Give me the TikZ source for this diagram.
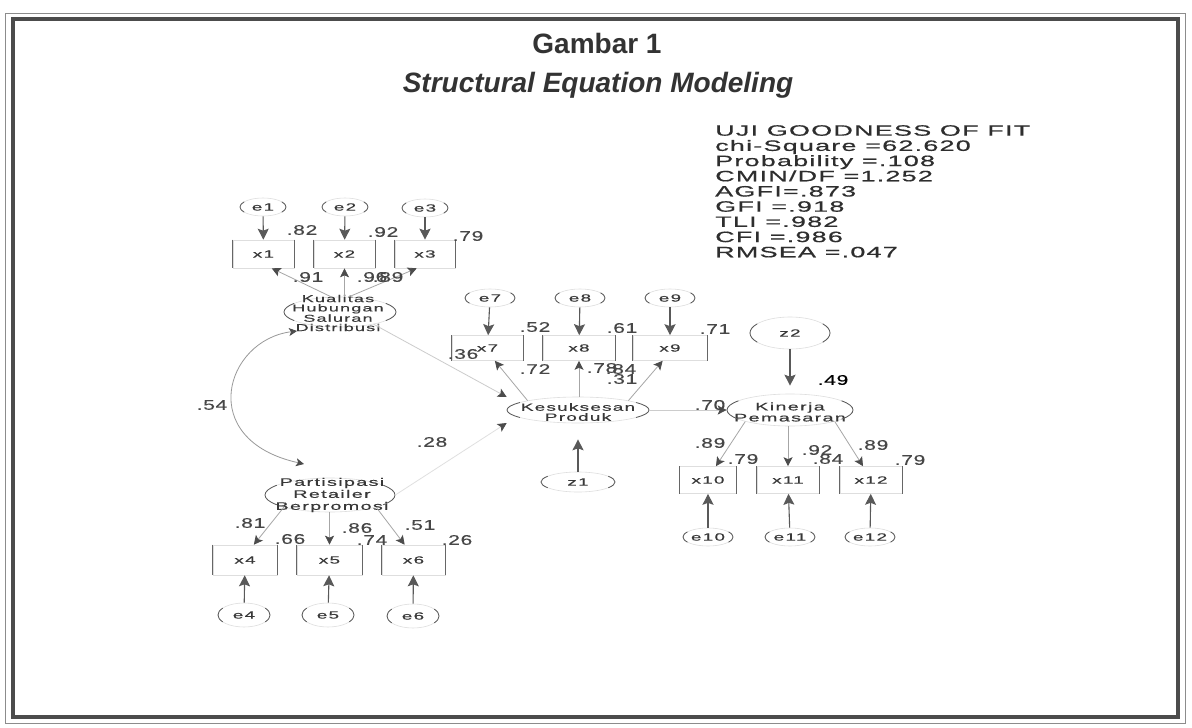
\documentclass[tikz,border=0pt]{standalone}
\usepackage{fontspec}
\setmainfont{Liberation Sans}
\newfontfamily\gofont[FakeStretch=1.8,LetterSpace=8,FakeBold=0.6]{Liberation Sans}
\newfontfamily\lblfont[FakeStretch=1.5,LetterSpace=5,FakeBold=0.4]{Liberation Sans}
\newfontfamily\smlfont[FakeStretch=1.8,LetterSpace=12,FakeBold=0.4]{Liberation Sans}
\usetikzlibrary{shapes.geometric,arrows.meta,calc}
\newcommand\ellarcs[3]{%
 \draw[paren] ([shift={(145:#2pt and #3pt)}]#1.center) arc[start angle=145,end angle=215,x radius=#2pt,y radius=#3pt];
 \draw[paren] ([shift={(-35:#2pt and #3pt)}]#1.center) arc[start angle=-35,end angle=35,x radius=#2pt,y radius=#3pt];}
\begin{document}
\begin{tikzpicture}[x=1pt,y=-1pt,
  lat/.style={ellipse, draw=black!13, line width=0.6pt, inner sep=0pt, font=\smlfont\fontsize{10.5}{11}\selectfont, text=black!78},
  mv/.style={rectangle, draw=black!13, line width=0.6pt, inner sep=0pt, font=\smlfont\fontsize{10.5}{11}\selectfont, text=black!78},
  txt/.style={align=center, inner sep=0pt, text=black!78},
  num/.style={font=\lblfont\fontsize{14}{14}\selectfont, text=black!72, inner sep=0pt},
  ea/.style={draw=black!65, line width=1.1pt, -{Stealth[length=11pt,width=11pt,inset=2pt]}},
  la/.style={draw=black!35, line width=0.8pt, -{Stealth[length=9pt,width=9pt,inset=2pt,color=black!70]}},
  sa/.style={draw=black!20, line width=0.8pt, -{Stealth[length=9pt,width=9pt,inset=2pt,color=black!70]}},
  cov/.style={draw=black!40, line width=0.8pt, {Stealth[length=8pt,width=8pt,inset=2pt,color=black!70]}-{Stealth[length=8pt,width=8pt,inset=2pt,color=black!70]}},
  paren/.style={draw=black!65, line width=0.8pt},
  vline/.style={draw=black!60, line width=0.9pt},
]
\useasboundingbox (0,0) rectangle (1192,728);
\fill[white] (0,0) rectangle (1192,728);
% frame
\draw[black!45, line width=0.8pt] (5,13) rectangle (1185,723);
\draw[black!70, line width=4pt] (13,19) rectangle (1178,717);

% titles
\node[font=\bfseries\fontsize{28}{30}\selectfont, text=black!80] (g1) at (597,43) {Gambar 1};
\node[font=\bfseries\itshape\fontsize{28}{30}\selectfont, text=black!80] (g2) at (598,85) {Structural Equation Modeling};

% goodness of fit
\node[anchor=north west, align=left, inner sep=0pt, font=\gofont\fontsize{15}{15.2}\selectfont, text=black!82] (gof) at (715,125)
 {UJI GOODNESS OF FIT\\chi-Square =62.620\\Probability =.108\\CMIN/DF =1.252\\AGFI=.873\\GFI =.918\\TLI =.982\\CFI =.986\\RMSEA =.047};

% error ellipses
\node[lat, minimum width=46pt, minimum height=18pt] (e1) at (263,207) {e1};
\node[lat, minimum width=46pt, minimum height=18pt] (e2) at (345,207) {e2};
\node[lat, minimum width=46pt, minimum height=18pt] (e3) at (425,208) {e3};
\node[lat, minimum width=50pt, minimum height=18pt] (e7) at (490,298) {e7};
\node[lat, minimum width=50pt, minimum height=18pt] (e8) at (580,298) {e8};
\node[lat, minimum width=50pt, minimum height=18pt] (e9) at (670,298) {e9};
\node[lat, minimum width=52pt, minimum height=24pt] (e4) at (244,615) {e4};
\node[lat, minimum width=52pt, minimum height=24pt] (e5) at (328,615) {e5};
\node[lat, minimum width=52pt, minimum height=24pt] (e6) at (413,616) {e6};
\node[lat, minimum width=50pt, minimum height=18pt] (e10) at (708,537) {e10};
\node[lat, minimum width=50pt, minimum height=18pt] (e11) at (790,537) {e11};
\node[lat, minimum width=50pt, minimum height=18pt] (e12) at (870,537) {e12};
\node[lat, minimum width=74pt, minimum height=20pt] (z1) at (578,482) {z1};
\node[lat, minimum width=80pt, minimum height=32pt] (z2) at (790,333) {z2};

% latent ellipses
\node[lat, minimum width=112pt, minimum height=30pt] (KHSD) at (340,312) {};
\node[txt, font=\smlfont\fontsize{10}{9.3}\selectfont] (KHSDt) at (338,313) {Kualitas\\Hubungan\\Saluran\\Distribusi};
\node[lat, minimum width=142pt, minimum height=26pt] (KP) at (578,410) {};
\node[txt, font=\smlfont\fontsize{10.5}{10}\selectfont] (KPt) at (578,412) {Kesuksesan\\Produk};
\node[lat, minimum width=126pt, minimum height=32pt] (KinP) at (790,410) {};
\node[txt, font=\smlfont\fontsize{11}{11}\selectfont] (KinPt) at (790,412) {Kinerja\\Pemasaran};
\node[lat, minimum width=130pt, minimum height=34pt] (PRB) at (330,495) {};
\node[txt, font=\smlfont\fontsize{11}{12}\selectfont] (PRBt) at (332,495) {Partisipasi\\Retailer\\Berpromosi};

% parentheses-like arcs
\ellarcs{e1}{23}{9}\ellarcs{e2}{23}{9}\ellarcs{e3}{23}{9}
\ellarcs{e7}{25}{9}\ellarcs{e8}{25}{9}\ellarcs{e9}{25}{9}
\ellarcs{e4}{26}{12}\ellarcs{e5}{26}{12}\ellarcs{e6}{26}{12}
\ellarcs{e10}{25}{9}\ellarcs{e11}{25}{9}\ellarcs{e12}{25}{9}
\ellarcs{z1}{37}{10}\ellarcs{z2}{40}{16}
\ellarcs{KHSD}{56}{15}\ellarcs{KP}{71}{13}\ellarcs{KinP}{63}{16}\ellarcs{PRB}{65}{17}

% indicator boxes
\node[mv, minimum width=61pt, minimum height=28pt] (x1) at (263.5,254) {x1};
\node[mv, minimum width=61pt, minimum height=28pt] (x2) at (344.5,254) {x2};
\node[mv, minimum width=60pt, minimum height=28pt] (x3) at (425,254) {x3};
\node[mv, minimum width=71pt, minimum height=25pt] (x7) at (487.5,348) {x7};
\node[mv, minimum width=72pt, minimum height=25pt] (x8) at (579,348) {x8};
\node[mv, minimum width=74pt, minimum height=25pt] (x9) at (670,348) {x9};
\node[mv, minimum width=57pt, minimum height=27pt] (x10) at (708,480) {x10};
\node[mv, minimum width=62pt, minimum height=27pt] (x11) at (788,480) {x11};
\node[mv, minimum width=62pt, minimum height=27pt] (x12) at (871,480) {x12};
\node[mv, minimum width=64pt, minimum height=30pt] (x4) at (245,560) {x4};
\node[mv, minimum width=65pt, minimum height=30pt] (x5) at (329.5,560) {x5};
\node[mv, minimum width=63pt, minimum height=30pt] (x6) at (413.5,560) {x6};
\foreach \n in {x1,x2,x3,x4,x5,x6,x7,x8,x9,x10,x11,x12}
 {\draw[vline] (\n.north west) -- (\n.south west) (\n.north east) -- (\n.south east);}

% error arrows
\foreach \a/\b in {e1/x1,e2/x2,e3/x3,e7/x7,e8/x8,e9/x9,e4/x4,e5/x5,e6/x6,e10/x10,e11/x11,e12/x12}
 {\draw[ea] (\a) -- (\b);}
\draw[ea, shorten >=16pt] (z1) -- (KP);
\draw[ea, shorten >=8pt] (z2) -- (KinP);

% loadings
\draw[la] (KHSD.120) -- (x1.-60);
\draw[la] (KHSD.north -| x2.south) -- (x2.south);
\draw[la] (KHSD.60) -- (x3.-120);
\draw[la] (KP.north west) -- (x7.-60);
\draw[la] (KP.north -| x8.south) -- (x8.south);
\draw[la] (KP.north east) -- (x9.-120);
\draw[la] (KinP.south west) -- (x10.60);
\draw[la] (KinP.south -| x11.north) -- (x11.north);
\draw[la] (KinP.south east) -- (x12.120);
\draw[la] (PRB.south west) -- (x4.60);
\draw[la] (PRB.south -| x5.north) -- (x5.north);
\draw[la] (PRB.south east) -- (x6.120);

% structural paths
\draw[sa] (KHSD.-20) -- ([yshift=13pt]KP.west);
\draw[sa, draw=black!12] (PRB.east) -- ([yshift=-13pt]KP.west);
\draw[sa] (KP.east) -- (KinP.west);
\coordinate (cA) at (297,331);
\coordinate (cB) at (304,464);
\draw[cov] (cA) .. controls (225,340) and (195,440) .. (cB);

% numbers
\node[num] (n1) at (302,230) {.82};
\node[num] (n2) at (383,232) {.92};
\node[num] (n3) at (468,236) {.79};
\node[num] (n4) at (308,277) {.91};
\node[num] (n5) at (372,277) {.96};
\node[num] (n6) at (388,277) {.89};
\node[num] (n7) at (212,405) {.54};
\node[num] (n8) at (432,442) {.28};
\node[num] (n9) at (463,354) {.36};
\node[num] (n10) at (535,327) {.52};
\node[num] (n11) at (622,328) {.61};
\node[num] (n12) at (715,329) {.71};
\node[num] (n13) at (535,369) {.72};
\node[num] (n14) at (602,368) {.78};
\node[num] (n15) at (621,369) {.84};
\node[num] (n16) at (622,379) {.31};
\node[num] (n17) at (710,405) {.70};
\node[num, text=black] (n18) at (833,380) {.49};
\node[num] (n19) at (710,443) {.89};
\node[num] (n20) at (743,459) {.79};
\node[num] (n21) at (817,450) {.92};
\node[num] (n22) at (828,459) {.84};
\node[num] (n23) at (873,445) {.89};
\node[num] (n24) at (910,460) {.79};
\node[num] (n25) at (250,523) {.81};
\node[num] (n26) at (290,539) {.66};
\node[num] (n27) at (357,528) {.86};
\node[num] (n28) at (372,540) {.74};
\node[num] (n29) at (420,525) {.51};
\node[num] (n30) at (457,540) {.26};
\end{tikzpicture}
\end{document}
